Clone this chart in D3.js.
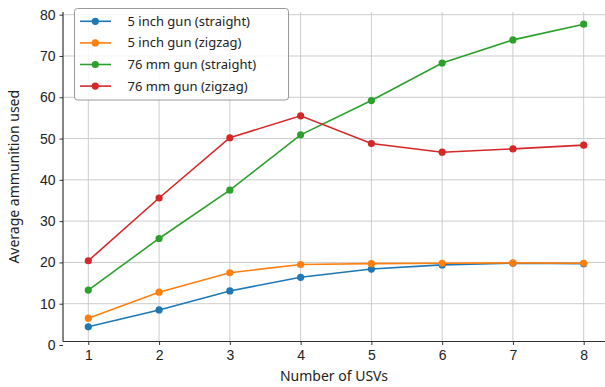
<!DOCTYPE html>
<html>
<head>
<meta charset="utf-8">
<script src="https://cdn.jsdelivr.net/npm/d3@7"></script>
<style>
  body { margin: 0; background: #fff; }
  svg { font-family: "Noto Sans", Roboto, sans-serif; }
</style>
</head>
<body>
<div id="chart"></div>
<script>
// data
const usvCounts = [1, 2, 3, 4, 5, 6, 7, 8];
const fiveInchStraight = [4.4, 8.5, 13.1, 16.4, 18.4, 19.4, 19.8, 19.7];
const fiveInchZigzag = [6.5, 12.8, 17.5, 19.5, 19.7, 19.8, 19.9, 19.8];
const mm76Straight = [13.3, 25.8, 37.5, 50.9, 59.2, 68.3, 73.9, 77.7];
const mm76Zigzag = [20.4, 35.6, 50.2, 55.5, 48.8, 46.7, 47.5, 48.4];
const seriesNames = ["5 inch gun (straight)", "5 inch gun (zigzag)", "76 mm gun (straight)", "76 mm gun (zigzag)"];
const seriesColors = ["#1f77b4", "#ff7f0e", "#2ca02c", "#d62728"];
const yTicks = [0, 10, 20, 30, 40, 50, 60, 70, 80];

const width = 605, height = 387;
const plot = { left: 63, right: 605, top: 12, bottom: 341.5 };

const series = [fiveInchStraight, fiveInchZigzag, mm76Straight, mm76Zigzag].map((vals, i) => ({
  name: seriesNames[i],
  color: seriesColors[i],
  points: usvCounts.map((n, j) => ({ n, v: vals[j] }))
}));

const svg = d3.select("#chart").append("svg")
  .attr("width", width)
  .attr("height", height);

const x = d3.scaleLinear().domain([1, 8]).range([88.3, 583.7]);
const y = d3.scaleLinear().domain([0, 80]).range([345, 14.7]);

// grid
const grid = svg.append("g").attr("stroke", "#cccccc").attr("stroke-width", 1);
grid.selectAll("line.v")
  .data(usvCounts)
  .join("line")
  .attr("class", "v")
  .attr("x1", d => x(d)).attr("x2", d => x(d))
  .attr("y1", plot.top).attr("y2", plot.bottom);
grid.selectAll("line.h")
  .data(yTicks.filter(t => y(t) < plot.bottom))
  .join("line")
  .attr("class", "h")
  .attr("x1", plot.left).attr("x2", plot.right)
  .attr("y1", d => y(d)).attr("y2", d => y(d));

// axes
const xAxis = svg.append("g")
  .attr("transform", `translate(0,${plot.bottom})`)
  .call(d3.axisBottom(x).tickValues(usvCounts).tickFormat(d3.format("d")).tickSize(3.5).tickPadding(5));
xAxis.select(".domain").attr("d", `M${plot.left},0H${plot.right}`);

const yAxis = svg.append("g")
  .attr("transform", `translate(${plot.left},0)`)
  .call(d3.axisLeft(y).tickValues(yTicks).tickSize(3.5).tickPadding(4));
yAxis.select(".domain").attr("d", `M0,${plot.top}V${plot.bottom}`);

svg.selectAll(".domain").attr("stroke", "#333").attr("stroke-width", 1.2);
svg.selectAll(".tick line").attr("stroke", "#333");
svg.selectAll(".tick text").attr("fill", "#222").style("font-size", "14px");

// axis titles
svg.append("text")
  .attr("x", (plot.left + plot.right) / 2 + 0)
  .attr("y", 381)
  .attr("text-anchor", "middle")
  .attr("fill", "#222")
  .style("font-size", "14px")
  .text("Number of USVs");

svg.append("text")
  .attr("transform", `translate(19,${(plot.top + plot.bottom) / 2}) rotate(-90)`)
  .attr("text-anchor", "middle")
  .attr("fill", "#222")
  .style("font-size", "14px")
  .text("Average ammunition used");

// lines + markers
const line = d3.line().x(d => x(d.n)).y(d => y(d.v));
const g = svg.append("g");
series.forEach(s => {
  g.append("path")
    .datum(s.points)
    .attr("fill", "none")
    .attr("stroke", s.color)
    .attr("stroke-width", 1.6)
    .attr("d", line);
  g.selectAll(null)
    .data(s.points)
    .join("circle")
    .attr("cx", d => x(d.n))
    .attr("cy", d => y(d.v))
    .attr("r", 3.6)
    .attr("fill", s.color);
});

// legend
const legend = svg.append("g").attr("transform", "translate(74,8)");
legend.append("rect")
  .attr("x", 0.5).attr("y", 0.5)
  .attr("width", 214).attr("height", 91.5)
  .attr("rx", 3)
  .attr("fill", "#fff")
  .attr("fill-opacity", 0.85)
  .attr("stroke", "#999");
const rows = legend.selectAll("g.row")
  .data(series)
  .join("g")
  .attr("class", "row")
  .attr("transform", (d, i) => `translate(0,${13.3 + i * 21.6})`);
rows.append("line")
  .attr("x1", 6).attr("x2", 37)
  .attr("stroke", d => d.color)
  .attr("stroke-width", 1.6);
rows.append("circle")
  .attr("cx", 21.3).attr("r", 3.6)
  .attr("fill", d => d.color);
rows.append("text")
  .attr("x", 53.5)
  .attr("dy", "0.35em")
  .attr("fill", "#222")
  .style("font-size", "13px")
  .text(d => d.name);
</script>
</body>
</html>
